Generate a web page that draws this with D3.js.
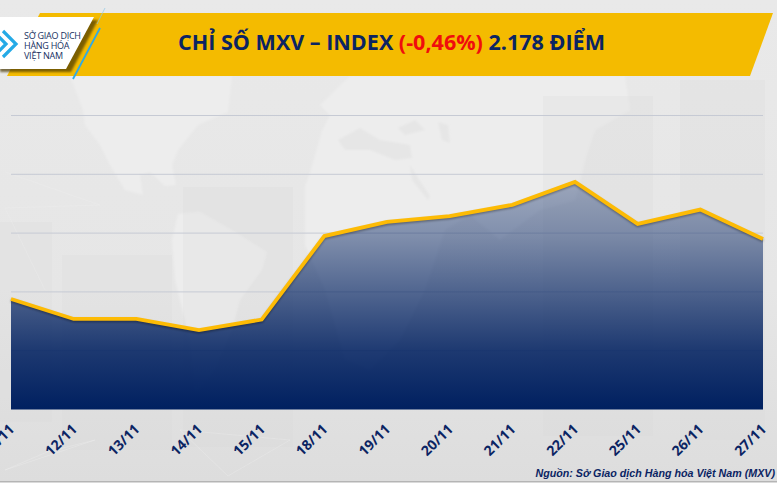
<!DOCTYPE html>
<html><head><meta charset="utf-8">
<script src="https://cdn.jsdelivr.net/npm/d3@7"></script>
<style>html,body{margin:0;padding:0;background:#fff;overflow:hidden}svg{display:block}</style>
</head><body><svg id="c" width="777" height="486"></svg>
<script>
const dates = ["11/11","12/11","13/11","14/11","15/11","18/11","19/11","20/11","21/11","22/11","25/11","26/11","27/11"];
const values = [2127,2110,2110,2100.5,2109.5,2180.5,2192.5,2197.5,2207,2226.5,2190.8,2203,2178];
const gridTicks = [2083,2133,2183,2233,2283];
const domainY = [2033,2283];
const titleParts = [["CHỈ SỐ MXV – INDEX ","#0b2463"],["(-0,46%)","#f00d0d"],[" 2.178 ĐIỂM","#0b2463"]];
const logoLines = ["SỞ GIAO DỊCH","HÀNG HÓA","VIỆT NAM"];
const source = "Nguồn: Sở Giao dịch Hàng hóa Việt Nam (MXV)";

const svg = d3.select("#c"), defs = svg.append("defs");
const lg = (id,stops)=>{const g=defs.append("linearGradient").attr("id",id).attr("x1",0).attr("y1",0).attr("x2",0).attr("y2",1);
  stops.forEach(s=>g.append("stop").attr("offset",s[0]).attr("stop-color",s[1]).attr("stop-opacity",s[2]??1));};
lg("bg",[[0,"#e9e9e9"],[.6,"#e6e6e6"],[1,"#dddddd"]]);
lg("area",[[0,"#002060",.33],[.237,"#002060",.46],[.52,"#002060",.69],[.74,"#002060",.87],[1,"#002060",1]]);
const blur=defs.append("filter").attr("id","sh").attr("x","-20%").attr("y","-20%").attr("width","140%").attr("height","150%");
blur.append("feGaussianBlur").attr("stdDeviation",1.2);
const soft=defs.append("filter").attr("id","soft");soft.append("feGaussianBlur").attr("stdDeviation",1);

// background
svg.append("rect").attr("width",777).attr("height",481).attr("fill","url(#bg)");
svg.append("rect").attr("y",481).attr("width",777).attr("height",1.5).attr("fill","#b5b5b5");
const deco = svg.append("g");
const land = [
 [[70,76],[232,76],[228,112],[198,125],[178,150],[172,165],[176,185],[165,186],[150,172],[140,175],[143,195],[125,190],[110,165],[100,145],[85,125],[83,110]],
 [[178,214],[200,212],[235,232],[267,252],[262,270],[240,300],[232,330],[215,370],[195,395],[190,340],[175,280],[172,240]],
 [[322,131],[330,115],[320,105],[350,76],[625,76],[630,110],[595,130],[585,160],[575,200],[540,210],[500,240],[470,215],[445,230],[425,290],[400,340],[370,370],[345,360],[325,290],[305,245],[305,186],[310,173]]];
land.forEach(p=>deco.append("path").attr("d",d3.line()(p)+"Z").attr("fill","#ededed").attr("filter","url(#soft)"));
const seas = [
 [[338,140],[360,128],[380,140],[410,145],[412,158],[395,160],[370,150],[345,150]],
 [[398,128],[415,120],[425,130],[405,135]],
 [[438,122],[448,125],[450,143],[442,140]],
 [[410,165],[418,178],[430,196],[428,200],[412,180]]];
seas.forEach(p=>deco.append("path").attr("d",d3.line()(p)+"Z").attr("fill","#e6e6e6").attr("filter","url(#soft)"));
[[0,222,52,200],[62,255,110,195],[183,187,110,260],[543,96,110,340],[680,80,85,360]].forEach(r=>
  deco.append("rect").attr("x",r[0]).attr("y",r[1]).attr("width",r[2]).attr("height",r[3]).attr("fill","#d8d8d8").attr("opacity",.2));
[[[5,172],[100,205],[5,208],[45,290]],[[228,476],[180,430],[290,440],[228,476]],[[47,452],[5,470],[95,440],[47,452]]].forEach(p=>
  deco.append("path").attr("d",d3.line()(p)).attr("fill","none").attr("stroke","#eeeeee").attr("stroke-width",.7).attr("opacity",.5));

// chart
const x = d3.scalePoint().domain(dates).range([11,763]);
const y = d3.scaleLinear().domain(domainY).range([409.5,115.5]);
svg.append("g").selectAll("line").data(gridTicks).join("line")
  .attr("x1",11).attr("x2",763).attr("y1",d=>y(d)).attr("y2",d=>y(d))
  .attr("stroke","#c6cad4").attr("stroke-width",1);
const pts = dates.map((d,i)=>[d,values[i]]);
const area = d3.area().x(d=>x(d[0])).y0(y(domainY[0])).y1(d=>y(d[1]));
const line = d3.line().x(d=>x(d[0])).y(d=>y(d[1]));
svg.append("path").attr("d",area(pts)).attr("fill","url(#area)");
svg.append("path").attr("d",line(pts)).attr("fill","none").attr("stroke","#000").attr("stroke-opacity",.35)
  .attr("stroke-width",3.5).attr("transform","translate(0,1.5)").attr("filter","url(#sh)");
svg.append("path").attr("d",line(pts)).attr("fill","none").attr("stroke","#fdbb05").attr("stroke-width",3.8).attr("stroke-linejoin","miter");

// x axis
svg.append("g").selectAll("text").data(dates).join("text")
  .attr("transform",d=>`translate(${x(d)-3},423) rotate(-45)`)
  .attr("text-anchor","end").attr("dy","0.72em")
  .attr("font-family","'Open Sans'").attr("font-weight",700).attr("font-size",14).attr("fill","#0b2463").text(d=>d);

// banner
svg.append("polygon").attr("points","40,13 773,13 750,76 7,76").attr("fill","#f4bb00");
svg.append("polygon").attr("points","4,20 98,20 71,72 0,72 0,20").attr("fill","#4a3800").attr("opacity",.7).attr("filter","url(#sh)");
svg.append("polygon").attr("points","0,17 94,17 66,69 0,69").attr("fill","#ffffff");
svg.append("line").attr("x1",100).attr("y1",28).attr("x2",73).attr("y2",79).attr("stroke","#2fa9e6").attr("stroke-width",1.8);
svg.append("line").attr("x1",105).attr("y1",8).attr("x2",97).attr("y2",24).attr("stroke","#8fc8e6").attr("stroke-width",.7);
const logo = svg.append("g");
[[[-1,37],[6,44],[-1,51]],[[3,31],[16,44],[3,57]]].forEach(p=>logo.append("path").attr("d",d3.line()(p))
  .attr("fill","none").attr("stroke","#25aae6").attr("stroke-width",3.2));
logo.selectAll("text").data(logoLines).join("text").attr("x",24).attr("y",(d,i)=>38.5+i*10)
  .attr("font-family","'Open Sans'").attr("font-size",9).attr("letter-spacing",-.25).attr("fill","#16305f").text(d=>d);

// title
const t = svg.append("text").attr("x",178).attr("y",50).attr("font-family","'Open Sans'").attr("font-weight",700).attr("font-size",21.55);
titleParts.forEach(p=>t.append("tspan").attr("fill",p[1]).style("white-space","pre").text(p[0]));

// source
svg.append("text").attr("x",775).attr("y",477).attr("text-anchor","end").attr("font-family","'Liberation Sans'")
  .attr("font-style","italic").attr("font-weight",700).attr("font-size",10.7).attr("fill","#0b2463").text(source);
</script></body></html>
